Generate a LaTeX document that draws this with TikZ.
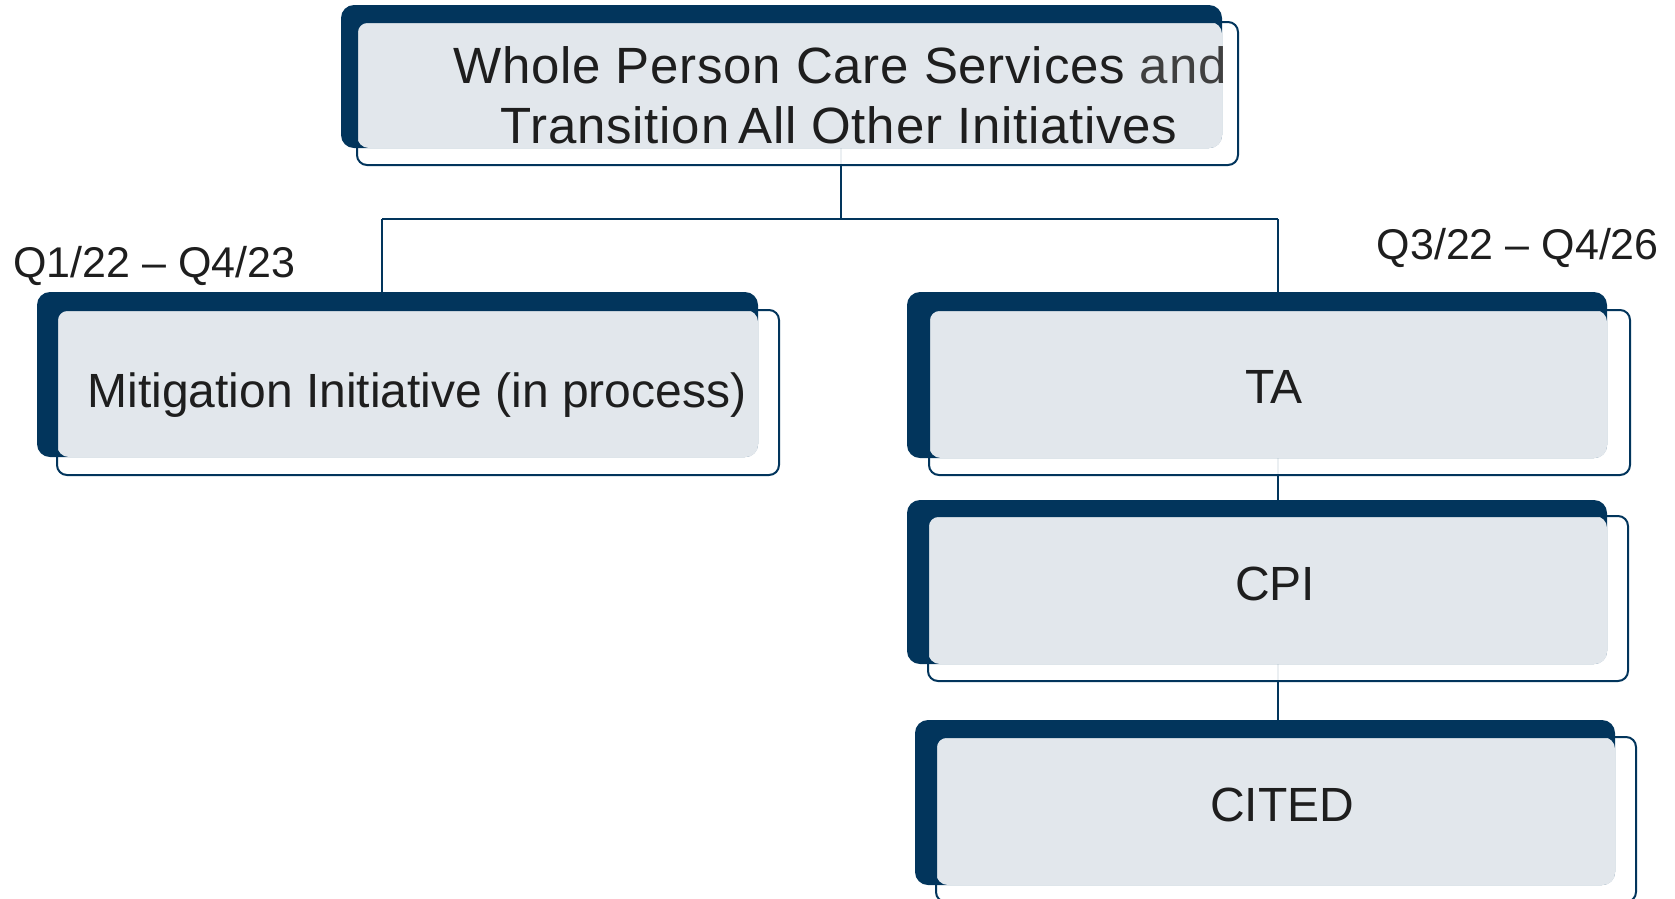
\documentclass[tikz,border=0pt]{standalone}
\usepackage{fontspec}
\setmainfont{Liberation Sans}
\newfontfamily\spacedfont[LetterSpace=1.5]{Liberation Sans}
\definecolor{navy}{HTML}{02355C}
\definecolor{paleblue}{HTML}{E2E7EC}
\definecolor{ink}{HTML}{1E1E1E}
\definecolor{inkgray}{HTML}{404040}
\pgfdeclarelayer{connlayer}
\pgfsetlayers{connlayer,main}
\tikzset{
  darkbox/.style={rectangle, fill=navy, draw=none, rounded corners=13pt, inner sep=0pt, outer sep=0pt, anchor=north west},
  outfill/.style={rectangle, fill=white, fill opacity=0.92, draw=none, rounded corners=10pt, inner sep=0pt, outer sep=0pt, anchor=north west},
  outstroke/.style={draw=navy, line width=2pt, rounded corners=10pt},
  palefill/.style={fill=paleblue, rounded corners=12pt},
  conn/.style={draw=navy, line width=1.6pt},
  boxtext/.style={text=ink, font=\fontsize{48}{58}\selectfont, inner sep=0pt},
  toptext/.style={text=ink, font=\fontsize{51}{60}\selectfont, inner sep=0pt},
  datetext/.style={text=ink, font=\fontsize{43}{52}\selectfont, inner sep=0pt},
}
\begin{document}
\begin{tikzpicture}[x=1pt, y=1pt]
\useasboundingbox (0,0) rectangle (1675,-898);

% junction coordinates
\coordinate (stem) at (841,-100);
\coordinate (jT) at (841,-219);
\coordinate (jL) at (382,-219);
\coordinate (jR) at (1278,-219);

% white (slightly transparent) bodies of the outline boxes
\node[outfill, minimum width=881pt, minimum height=143pt] (topO) at (357,-22) {};
\node[outfill, minimum width=722pt, minimum height=165pt] (mitO) at (57,-310) {};
\node[outfill, minimum width=701pt, minimum height=165pt] (taO) at (929,-310) {};
\node[outfill, minimum width=700pt, minimum height=165pt] (cpiO) at (928,-516) {};
\node[outfill, minimum width=700pt, minimum height=165pt] (citO) at (936,-737) {};

% connectors (on a layer behind the boxes)
\begin{pgfonlayer}{connlayer}
\draw[conn] (stem) -- (jT);
\draw[conn] (jL) -- (jR);
\draw[conn] (jL) -- (jL |- mitO.center);
\draw[conn] (jR) -- (jR |- taO.center);
\draw[conn] (jR |- taO.center) -- (jR |- cpiO.center);
\draw[conn] (jR |- cpiO.center) -- (jR |- citO.center);
\end{pgfonlayer}

% dark back boxes
\node[darkbox, minimum width=881pt, minimum height=143pt] (topD) at (341,-5) {};
\node[darkbox, minimum width=721pt, minimum height=165pt] (mitD) at (37,-292) {};
\node[darkbox, minimum width=700pt, minimum height=166pt] (taD) at (907,-292) {};
\node[darkbox, minimum width=700pt, minimum height=164pt] (cpiD) at (907,-500) {};
\node[darkbox, minimum width=700pt, minimum height=165pt] (citD) at (915,-720) {};

% pale fronts
\fill[palefill] (topO.north west) rectangle (topD.south east);
\fill[palefill] (mitO.north west) rectangle (mitD.south east);
\fill[palefill] (taO.north west) rectangle (taD.south east);
\fill[palefill] (cpiO.north west) rectangle (cpiD.south east);
\fill[palefill] (citO.north west) rectangle (citD.south east);

% outline strokes
\draw[outstroke] (topO.north west) rectangle (topO.south east);
\draw[outstroke] (mitO.north west) rectangle (mitO.south east);
\draw[outstroke] (taO.north west) rectangle (taO.south east);
\draw[outstroke] (cpiO.north west) rectangle (cpiO.south east);
\draw[outstroke] (citO.north west) rectangle (citO.south east);

% texts
\node[toptext, anchor=base] (topt1) at (840,-83) {\spacedfont Whole Person Care Services \textcolor{inkgray}{and}};
\node[toptext, anchor=base] (topt2) at (839,-143) {\spacedfont Transition\hspace{-6pt} All Other Initiatives};
\node[boxtext, anchor=base] (mitt) at (417,-407) {Mitigation Initiative (in process)};
\node[boxtext, anchor=base] (tat) at (1274,-403) {TA};
\node[boxtext, anchor=base] (cpit) at (1275,-600) {CPI};
\node[boxtext, anchor=base] (citt) at (1282,-821) {CITED};
\node[datetext, anchor=base west] (dL) at (13,-277) {Q1/22 – Q4/23};
\node[datetext, anchor=base east] (dR) at (1659,-259) {Q3/22 – Q4/26};
\end{tikzpicture}
\end{document}
